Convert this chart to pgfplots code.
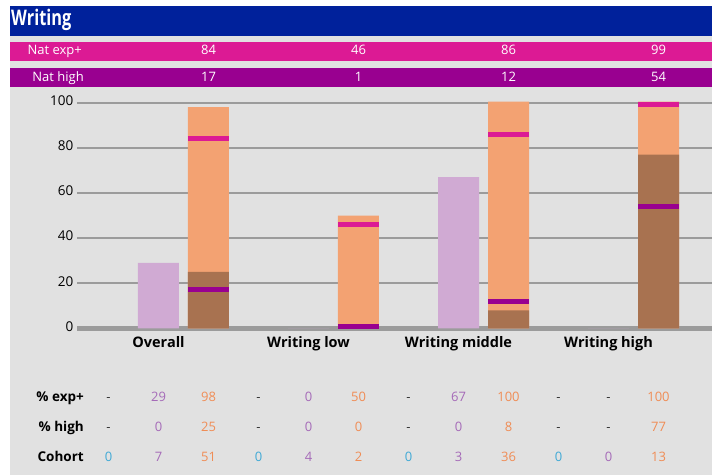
\documentclass[border=0pt]{standalone}
\usepackage{pgfplots}
\pgfplotsset{compat=1.18}
\usepackage{fontspec}
\setmainfont{Open Sans}
\newfontfamily\condfont{Open Sans}[FakeStretch=0.76]

\definecolor{panel}{HTML}{E1E1E1}
\definecolor{titleblue}{HTML}{00219B}
\definecolor{natexp}{HTML}{DC1A94}
\definecolor{nathigh}{HTML}{990090}
\definecolor{lav}{HTML}{D0AAD3}
\definecolor{barorange}{HTML}{F3A272}
\definecolor{barbrown}{HTML}{A87250}
\definecolor{gridgray}{HTML}{9B9B9B}
\definecolor{tp}{HTML}{A56AB8}
\definecolor{to}{HTML}{F08C55}
\definecolor{tb}{HTML}{3FA9D6}
\definecolor{td}{HTML}{333333}

\begin{document}
\begin{tikzpicture}[x=1pt,y=1pt]
\useasboundingbox (0,0) rectangle (712,475);
\fill[white] (0,0) rectangle (712,475);
\fill[panel] (10,0) rectangle (712,469);
\fill[titleblue] (10,439) rectangle (712,469);
\fill[natexp] (10,414) rectangle (712,433);
\fill[nathigh] (10,388) rectangle (712,407);

\node[anchor=base west, text=white, inner sep=0pt,
      font=\condfont\bfseries\fontsize{21.5}{21.5}\selectfont] at (11,449) {Writing};

% national benchmark rows
\node[anchor=base east, text=white, inner sep=0pt, font=\fontsize{13}{13}\selectfont] at (82,420) {Nat exp+};
\node[anchor=base east, text=white, inner sep=0pt, font=\fontsize{13}{13}\selectfont] at (84,393.3) {Nat high};
\foreach \x/\v in {208.5/84, 358.5/46, 508.5/86, 658.5/99}
  \node[anchor=base, text=white, inner sep=0pt, font=\fontsize{13}{13}\selectfont] at (\x,420) {\v};
\foreach \x/\v in {208.5/17, 358.5/1, 508.5/12, 658.5/54}
  \node[anchor=base, text=white, inner sep=0pt, font=\fontsize{13}{13}\selectfont] at (\x,393.3) {\v};

\begin{axis}[
  at={(77pt,146.7pt)}, anchor=south west,
  x=150pt, y=2.256pt,
  xmin=-0.5433, xmax=3.69, ymin=0, ymax=100,
  clip=false,
  axis line style={draw=none},
  major tick style={draw=none},
  ytick={20,40,60,80,100},
  extra y ticks={0},
  extra y tick style={grid style={gridgray, line width=4.5pt}},
  ymajorgrids,
  grid style={gridgray, line width=2pt},
  xtick={0,1,2,3},
  xticklabels={Overall, Writing low, Writing middle, Writing high},
  xticklabel style={anchor=base, inner sep=0pt, yshift=-19.4pt,
    font=\bfseries\fontsize{14.5}{14.5}\selectfont},
  yticklabel style={anchor=east, inner sep=0pt, xshift=-3.5pt, yshift=2pt,
    font=\fontsize{13.5}{13.5}\selectfont},
  /pgf/number format/assume math mode=true,
]
% % exp+ of the school's pupils (lavender)
\addplot[ybar, bar width=41pt, bar shift=0pt, fill=lav, draw=none]
  coordinates {(0,29) (1,0) (2,67) (3,0)};
% % exp+ (orange)
\addplot[ybar, bar width=41pt, bar shift=50pt, fill=barorange, draw=none]
  coordinates {(0,98) (1,50) (2,100.5) (3,100.5)};
% % high (brown)
\addplot[ybar, bar width=41pt, bar shift=50pt, fill=barbrown, draw=none]
  coordinates {(0,25) (1,0) (2,8) (3,77)};
% national markers
\addplot[only marks, mark=-, mark size=20.5pt, natexp, mark options={line width=5pt}]
  coordinates {(0.3333,84) (1.3333,46) (2.3333,86) (3.3333,99)};
\addplot[only marks, mark=-, mark size=20.5pt, nathigh, mark options={line width=5pt}]
  coordinates {(0.3333,17) (1.3333,1) (2.3333,12) (3.3333,54)};
\end{axis}

% table under the chart
\foreach \y/\t in {73.3/{\% exp+}, 43.3/{\% high}, 14/{Cohort}}
  \node[anchor=base east, inner sep=0pt, font=\bfseries\fontsize{13.5}{13.5}\selectfont] at (84,\y) {\t};
\foreach \v/\c [count=\i from 0] in {-/td,29/tp,98/to,-/td,0/tp,50/to,-/td,67/tp,100/to,-/td,-/td,100/to}
  \node[anchor=base, inner sep=0pt, text=\c, font=\fontsize{13}{13}\selectfont] at (108.5+50*\i,73.3) {\v};
\foreach \v/\c [count=\i from 0] in {-/td,0/tp,25/to,-/td,0/tp,0/to,-/td,0/tp,8/to,-/td,-/td,77/to}
  \node[anchor=base, inner sep=0pt, text=\c, font=\fontsize{13}{13}\selectfont] at (108.5+50*\i,43.3) {\v};
\foreach \v/\c [count=\i from 0] in {0/tb,7/tp,51/to,0/tb,4/tp,2/to,0/tb,3/tp,36/to,0/tb,0/tp,13/to}
  \node[anchor=base, inner sep=0pt, text=\c, font=\fontsize{13}{13}\selectfont] at (108.5+50*\i,14) {\v};
\end{tikzpicture}
\end{document}
